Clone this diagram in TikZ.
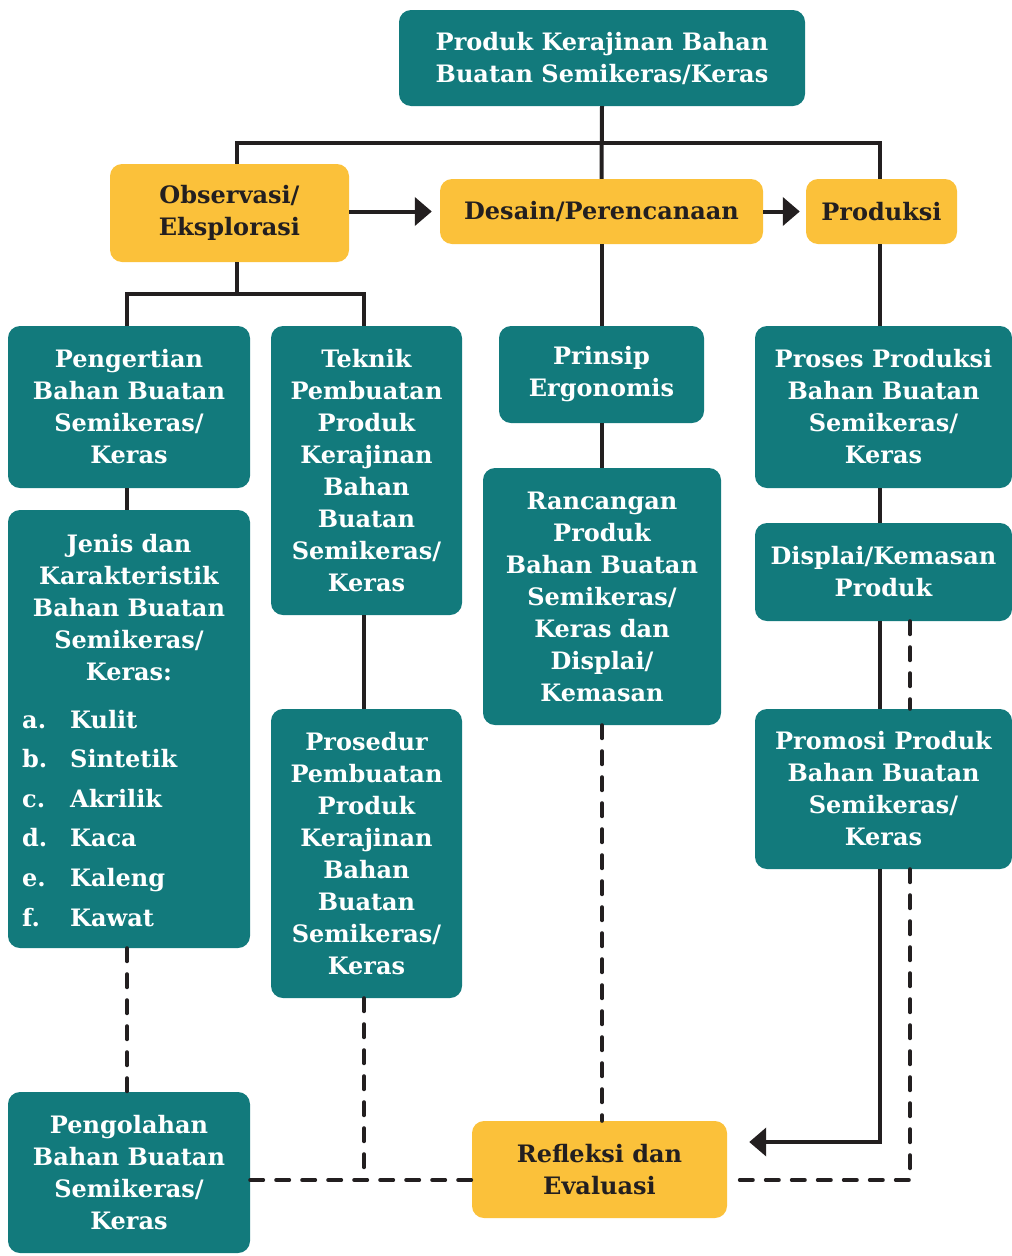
\documentclass[tikz,border=0pt]{standalone}
\usepackage{fontspec}
\setmainfont{DejaVu Serif}
\usetikzlibrary{arrows.meta}
\definecolor{tealbox}{HTML}{127A7C}
\definecolor{yelbox}{HTML}{FBC13A}
\definecolor{ink}{HTML}{231F20}
\tikzset{
  base/.style={rounded corners=12pt, align=center, inner sep=0pt, font=\fontsize{24}{32}\selectfont\bfseries},
  tbox/.style={base, fill=tealbox, text=white},
  ybox/.style={base, fill=yelbox, text=ink},
  conn/.style={draw=ink, line width=4pt},
  dconn/.style={conn, dash pattern=on 13pt off 13pt, line cap=round},
  arr/.style={conn, -{Triangle[length=17pt,width=28pt]}},
  item/.style={anchor=base west, inner sep=0pt, text=white, font=\fontsize{24}{32}\selectfont\bfseries}
}
\begin{document}
\begin{tikzpicture}[x=1pt,y=-1pt]
\useasboundingbox (0,0) rectangle (1012,1256);
% coordinates
\coordinate (hl) at (237,143);
\coordinate (hr) at (880,143);
\coordinate (ob) at (237,294);
\coordinate (bl) at (127,294);
\coordinate (br) at (364,294);
\coordinate (dr) at (910,1180);
\coordinate (ar) at (880,1142);
% nodes
\node[tbox, minimum width=406pt, minimum height=96pt] (top) at (602,58) {Produk Kerajinan Bahan\\Buatan Semikeras/Keras};
\node[ybox, minimum width=239pt, minimum height=98pt] (obs) at (229.5,213) {Observasi/\\Eksplorasi};
\node[ybox, minimum width=323pt, minimum height=65pt] (des) at (601.5,211.5) {Desain/Perencanaan};
\node[ybox, minimum width=151pt, minimum height=65pt] (prod) at (881.5,211.5) {Produksi};
\node[tbox, minimum width=242pt, minimum height=162pt] (peng) at (129,407) {Pengertian\\Bahan Buatan\\Semikeras/\\Keras};
\node[tbox, minimum width=191pt, minimum height=289pt] (tek) at (366.5,470.5) {Teknik\\Pembuatan\\Produk\\Kerajinan\\Bahan\\Buatan\\Semikeras/\\Keras};
\node[tbox, minimum width=205pt, minimum height=97pt] (prin) at (601.5,374.5) {Prinsip\\Ergonomis};
\node[tbox, minimum width=257pt, minimum height=162pt] (proses) at (883.5,407) {Proses Produksi\\Bahan Buatan\\Semikeras/\\Keras};
\node[tbox, minimum width=242pt, minimum height=438pt] (jenis) at (129,729) {};
\node[base, text=white] (jenishead) at (129,608) {Jenis dan\\Karakteristik\\Bahan Buatan\\Semikeras/\\Keras:};
\node[item] (la) at (22,728) {a.}; \node[item] (ia) at (70,728) {Kulit};
\node[item] (lb) at (22,767.6) {b.}; \node[item] (ib) at (70,767.6) {Sintetik};
\node[item] (lc) at (22,807.2) {c.}; \node[item] (ic) at (70,807.2) {Akrilik};
\node[item] (ld) at (22,846.8) {d.}; \node[item] (id) at (70,846.8) {Kaca};
\node[item] (le) at (22,886.4) {e.}; \node[item] (ie) at (70,886.4) {Kaleng};
\node[item] (lf) at (22,926) {f.}; \node[item] (if) at (70,926) {Kawat};
\node[tbox, minimum width=238pt, minimum height=257pt] (ranc) at (602,596.5) {Rancangan\\Produk\\Bahan Buatan\\Semikeras/\\Keras dan\\Displai/\\Kemasan};
\node[tbox, minimum width=257pt, minimum height=98pt] (disp) at (883.5,572) {Displai/Kemasan\\Produk};
\node[tbox, minimum width=257pt, minimum height=160pt] (prom) at (883.5,789) {Promosi Produk\\Bahan Buatan\\Semikeras/\\Keras};
\node[tbox, minimum width=191pt, minimum height=289pt] (pros) at (366.5,853.5) {Prosedur\\Pembuatan\\Produk\\Kerajinan\\Bahan\\Buatan\\Semikeras/\\Keras};
\node[tbox, minimum width=242pt, minimum height=161pt] (pengol) at (129,1172.5) {Pengolahan\\Bahan Buatan\\Semikeras/\\Keras};
\node[ybox, minimum width=255pt, minimum height=97pt] (ref) at (599.5,1169.5) {Refleksi dan\\Evaluasi};
% solid connectors
\draw[conn] (top.south) -- (des.north);
\draw[conn] (obs.north -| hl) -- (hl) -- (hr) -- (prod.north -| hr);
\draw[arr, shorten >=8pt] (obs.east |- des) -- (des.west);
\draw[arr, shorten >=6pt] (des.east) -- (prod.west);
\draw[conn] (obs.south -| ob) -- (ob);
\draw[conn] (peng.north -| bl) -- (bl) -- (br) -- (tek.north -| br);
\draw[conn] (peng.south -| bl) -- (jenis.north -| bl);
\draw[conn] (tek.south -| br) -- (pros.north -| br);
\draw[conn] (des.south) -- (prin.north);
\draw[conn] (prin.south) -- (ranc.north -| prin.south);
\draw[conn] (prod.south -| hr) -- (proses.north -| hr);
\draw[conn] (proses.south -| hr) -- (disp.north -| hr);
\draw[conn] (disp.south -| hr) -- (prom.north -| hr);
\draw[arr, shorten >=22pt] (prom.south -| ar) -- (ar) -- (ref.east |- ar);
% dashed connectors
\draw[dconn] (disp.south -| dr) -- (prom.north -| dr);
\draw[dconn] (prom.south -| dr) -- (dr) -- (ref.east |- dr);
\draw[dconn] (ranc.south) -- (ref.north -| ranc.south);
\draw[dconn] (jenis.south -| bl) -- (pengol.north -| bl);
\draw[dconn] (pengol.east |- dr) -- (ref.west |- dr);
\draw[dconn] (pros.south -| br) -- (br |- dr);
\end{tikzpicture}
\end{document}
